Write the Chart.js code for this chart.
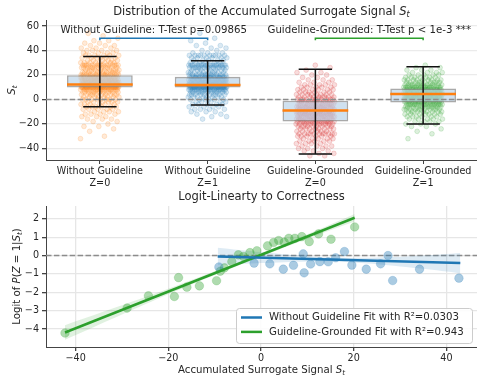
<!DOCTYPE html>
<html>
<head>
<meta charset="utf-8">
<script src="https://cdn.jsdelivr.net/npm/chart.js@4.4.0/dist/chart.umd.min.js"></script>
<style>
html, body { margin: 0; padding: 0; background: #fff; }
canvas { position: absolute; left: 0; }
#c1 { top: 0; }
#c2 { top: 190px; }
</style>
</head>
<body>
<canvas id="c1" width="477" height="190"></canvas>
<canvas id="c2" width="477" height="191"></canvas>
<script>
// ---- top panel: strip + box per group ----
var groupNames = [['Without Guideline', 'Z=0'], ['Without Guideline', 'Z=1'], ['Guideline-Grounded', 'Z=0'], ['Guideline-Grounded', 'Z=1']];
var groupColors = ['255,127,14', '31,119,180', '214,39,40', '44,160,44'];

var levels = [-46,-44,-42,-40,-38,-36,-34,-32,-30,-28,-26,-24,-22,-20,-18,-16,-14,-12,-10,-8,-6,-4,-2,0,2,4,6,8,10,12,14,16,18,20,22,24,26,28,30,32,34,36,38,40,42,44,46,48,50,52,54];
var countsNoZ0 = [0,0,0,0,0,0,0,1,1,0,1,1,2,1,2,3,3,4,4,5,6,6,6,8,8,10,12,18,40,42,26,22,22,16,12,10,12,16,8,6,6,6,4,4,3,3,2,2,1,1,1];
var countsNoZ1 = [0,0,0,0,0,0,0,0,0,0,0,0,0,0,0,1,2,2,3,4,4,5,5,6,8,10,14,20,40,40,30,28,24,14,10,8,14,20,6,5,6,10,3,2,2,2,1,1,1,0,1];
var countsGgZ0 = [2,2,3,3,4,4,5,5,6,11,6,8,9,12,15,15,16,18,19,18,15,14,12,11,9,8,6,6,5,5,3,3,2,2,2,1,1,1,0,0,0,0,0,0,0,0,0,0,0,0,0];
var countsGgZ1 = [0,0,0,0,0,0,0,1,0,1,1,1,2,3,4,5,6,7,9,11,14,18,22,26,28,30,27,24,19,14,10,9,7,5,4,3,2,1,0,0,0,0,0,0,0,0,0,0,0,0,0];

var boxQ1 = [9.7, 9.7, -18, -2.5];
var boxMed = [12.3, 11.8, -9, 4.5];
var boxQ3 = [19.8, 18.5, -1, 9];
var whiskLo = [-6, -4.5, -44.5, -20];
var whiskHi = [35, 31.7, 24.6, 26.8];
var topYTicks = [-40, -20, 0, 20, 40, 60];

var testLabels = ['Without Guideline: T-Test p=0.09865', 'Guideline-Grounded: T-Test p < 1e-3 ***'];
var testPairs = [[0, 1], [2, 3]];
var testColors = ['#1f77b4', '#2ca02c'];

// ---- bottom panel: binned logits vs signal ----
var noX = [-9.1, -1.5, 1.9, 4.8, 7.0, 9.1, 9.3, 10.7, 12.7, 14.5, 16.1, 18.0, 19.6, 22.7, 25.8, 27.4, 28.4, 34.2, 42.7];
var noY = [-0.62, -0.41, -0.45, -0.74, -0.53, 0.09, -0.94, -0.46, -0.33, -0.34, -0.12, 0.22, -0.52, -0.74, -0.45, 0.0, -1.36, -0.74, -1.23];
var ggX = [-42.3, -28.9, -24.3, -18.7, -17.8, -16.0, -13.3, -9.6, -8.8, -7.9, -6.3, -4.9, -3.8, -2.4, -0.9, 1.4, 2.7, 3.8, 5.0, 6.0, 7.3, 8.8, 10.4, 12.4, 15.1, 20.2];
var ggY = [-4.22, -2.86, -2.19, -2.23, -1.2, -1.72, -1.65, -1.37, -0.85, -0.67, -0.33, 0.04, -0.05, 0.16, 0.26, 0.53, 0.71, 0.82, 0.73, 0.94, 0.94, 1.03, 0.76, 1.18, 0.89, 1.56];

var noFitX = [-9.35, 43], noFitY = [-0.05, -0.41];
var ggFitX = [-42.3, 20.2], ggFitY = [-4.19, 2.06];
var noBandX = [-9.35, 0, 10, 16, 25, 35, 43];
var noBandHi = [0.43, 0.19, -0.04, -0.12, -0.11, 0.0, 0.14];
var noBandLo = [-0.53, -0.41, -0.32, -0.32, -0.47, -0.72, -0.96];
var ggBandX = [-42.3, -30, -20, -10, 0, 10, 20.2];
var ggBandHi = [-3.79, -2.71, -1.81, -0.86, 0.13, 1.16, 2.27];
var ggBandLo = [-4.59, -3.21, -2.11, -1.06, -0.05, 0.92, 1.85];
var botXTicks = [-40, -20, 0, 20, 40];
var botYTicks = [-4, -3, -2, -1, 0, 1, 2];
var fitLabels = ['Without Guideline Fit with R\u00b2=0.0303', 'Guideline-Grounded Fit with R\u00b2=0.943'];

var FONT = 'DejaVu Sans';
var TXT = '#262626';

function minus(v) { return String(v).replace('-', '\u2212'); }

function stripPoints(g, counts) {
  var pts = [], m = 0;
  for (var i = 0; i < levels.length; i++) {
    for (var k = 0; k < counts[i]; k++) {
      var f = (m * 0.6180339887 + g * 0.37) % 1;
      pts.push({ x: g + (f - 0.5) * 0.36, y: levels[i] });
      m++;
    }
  }
  return pts;
}

function zip(xs, ys) { return xs.map(function (x, i) { return { x: x, y: ys[i] }; }); }

// text with italic / subscript pieces, like matplotlib mathtext
function richText(ctx, parts, x, y, size) {
  function font(p) {
    var s = p[1] === 'sub' ? size * 0.7 : size;
    return (p[1] === 'n' ? '' : 'italic ') + s + 'px "' + FONT + '"';
  }
  var w = 0;
  parts.forEach(function (p) { ctx.font = font(p); w += ctx.measureText(p[0]).width; });
  var cx = x - w / 2;
  ctx.textAlign = 'left';
  ctx.textBaseline = 'middle';
  parts.forEach(function (p) {
    ctx.font = font(p);
    ctx.fillText(p[0], cx, y + (p[1] === 'sub' ? size * 0.28 : 0));
    cx += ctx.measureText(p[0]).width;
  });
}

function zeroLine(chart) {
  var ctx = chart.ctx, a = chart.chartArea, py = chart.scales.y.getPixelForValue(0);
  ctx.save();
  ctx.strokeStyle = '#8c8c8c';
  ctx.lineWidth = 1.5;
  ctx.setLineDash([5.5, 2.4]);
  ctx.beginPath(); ctx.moveTo(a.left, py); ctx.lineTo(a.right, py); ctx.stroke();
  ctx.restore();
}

var topPlugin = {
  id: 'topDecor',
  afterDatasetsDraw: function (chart) {
    var ctx = chart.ctx, xs = chart.scales.x, ys = chart.scales.y;
    zeroLine(chart);
    ctx.save();
    var half = xs.getPixelForValue(0.155) - xs.getPixelForValue(0);
    var boxHalf = xs.getPixelForValue(0.305) - xs.getPixelForValue(0);
    for (var g = 0; g < 4; g++) {
      var px = xs.getPixelForValue(g);
      ctx.strokeStyle = '#111';
      ctx.lineWidth = 1.5;
      ctx.beginPath();
      ctx.moveTo(px, ys.getPixelForValue(whiskLo[g])); ctx.lineTo(px, ys.getPixelForValue(whiskHi[g]));
      ctx.moveTo(px - half, ys.getPixelForValue(whiskLo[g])); ctx.lineTo(px + half, ys.getPixelForValue(whiskLo[g]));
      ctx.moveTo(px - half, ys.getPixelForValue(whiskHi[g])); ctx.lineTo(px + half, ys.getPixelForValue(whiskHi[g]));
      ctx.stroke();
      ctx.strokeStyle = '#ff7f0e';
      ctx.lineWidth = 2.5;
      ctx.beginPath();
      ctx.moveTo(px - boxHalf, ys.getPixelForValue(boxMed[g])); ctx.lineTo(px + boxHalf, ys.getPixelForValue(boxMed[g]));
      ctx.stroke();
    }
    // t-test brackets
    for (var t = 0; t < testPairs.length; t++) {
      var x0 = xs.getPixelForValue(testPairs[t][0]), x1 = xs.getPixelForValue(testPairs[t][1]);
      var by = ys.getPixelForValue(50), bt = ys.getPixelForValue(48.3);
      ctx.strokeStyle = testColors[t];
      ctx.lineWidth = 1.5;
      ctx.beginPath();
      ctx.moveTo(x0, bt); ctx.lineTo(x0, by); ctx.lineTo(x1, by); ctx.lineTo(x1, bt);
      ctx.stroke();
      ctx.fillStyle = TXT;
      ctx.font = '10.2px "' + FONT + '"';
      ctx.textAlign = 'center';
      ctx.textBaseline = 'middle';
      ctx.fillText(testLabels[t], (x0 + x1) / 2, ys.getPixelForValue(56.8));
    }
    ctx.restore();
  },
  afterDraw: function (chart) {
    var ctx = chart.ctx, a = chart.chartArea;
    ctx.save();
    ctx.fillStyle = TXT;
    richText(ctx, [['Distribution of the Accumulated Surrogate Signal ', 'n'], ['S', 'i'], ['t', 'sub']], (a.left + a.right) / 2, 12, 11.5);
    ctx.translate(12, (a.top + a.bottom) / 2);
    ctx.rotate(-Math.PI / 2);
    richText(ctx, [['S', 'i'], ['t', 'sub']], 0, 0, 10.2);
    ctx.restore();
  }
};

var botPlugin = {
  id: 'botDecor',
  beforeDatasetsDraw: function (chart) { zeroLine(chart); },
  afterDraw: function (chart) {
    var ctx = chart.ctx, a = chart.chartArea;
    ctx.save();
    ctx.fillStyle = TXT;
    richText(ctx, [['Logit-Linearty to Correctness', 'n']], (a.left + a.right) / 2, 7.5, 11.5);
    richText(ctx, [['Accumulated Surrogate Signal ', 'n'], ['S', 'i'], ['t', 'sub']], (a.left + a.right) / 2, 180, 10.2);
    ctx.save();
    ctx.translate(17, (a.top + a.bottom) / 2);
    ctx.rotate(-Math.PI / 2);
    richText(ctx, [['Logit of ', 'n'], ['P', 'i'], ['(', 'n'], ['Z', 'i'], [' = 1|', 'n'], ['S', 'i'], ['t', 'sub'], [')', 'n']], 0, 0, 10.2);
    ctx.restore();
    // legend, lower right
    var lx = a.right - 241, ly = a.bottom - 39, lw = 236, lh = 35;
    ctx.fillStyle = 'rgba(255,255,255,0.85)';
    ctx.strokeStyle = '#cccccc';
    ctx.lineWidth = 1;
    ctx.beginPath();
    ctx.roundRect(lx + 0.5, ly + 0.5, lw, lh, 3);
    ctx.fill(); ctx.stroke();
    var cols = ['#1f77b4', '#2ca02c'];
    for (var i = 0; i < 2; i++) {
      var ry = ly + 9.5 + i * 14.4;
      ctx.strokeStyle = cols[i];
      ctx.lineWidth = 2.5;
      ctx.beginPath(); ctx.moveTo(lx + 5, ry); ctx.lineTo(lx + 26, ry); ctx.stroke();
      ctx.fillStyle = TXT;
      ctx.font = '10.2px "' + FONT + '"';
      ctx.textAlign = 'left';
      ctx.textBaseline = 'middle';
      ctx.fillText(fitLabels[i], lx + 33, ry);
    }
    ctx.restore();
  }
};

var tickFont = { family: FONT, size: 9.6 };

var topDatasets = [];
var allCounts = [countsNoZ0, countsNoZ1, countsGgZ0, countsGgZ1];
for (var g = 0; g < 4; g++) {
  topDatasets.push({
    type: 'scatter',
    data: stripPoints(g, allCounts[g]),
    backgroundColor: 'rgba(' + groupColors[g] + ',0.16)',
    borderColor: 'rgba(' + groupColors[g] + ',0.22)',
    borderWidth: 0.8,
    pointRadius: 2.4,
    order: 2
  });
}
// box drawn over the strips, like the reference
topDatasets.push({
  type: 'bar',
  data: boxQ1.map(function (q, i) { return { x: i, y: [q, boxQ3[i]] }; }),
  backgroundColor: 'rgba(188,213,234,0.72)',
  borderColor: 'rgba(140,140,140,0.75)',
  borderWidth: 1.6,
  borderSkipped: false,
  barPercentage: 0.61,
  categoryPercentage: 1,
  order: 1
});

new Chart(document.getElementById('c1'), {
  type: 'scatter',
  data: { datasets: topDatasets },
  options: {
    responsive: false, animation: false, devicePixelRatio: 1,
    layout: { autoPadding: false, padding: { top: 20, left: 0, right: 0, bottom: 0 } },
    plugins: { legend: { display: false }, tooltip: { enabled: false } },
    scales: {
      x: {
        type: 'linear', min: -0.5, max: 3.5, offset: false,
        afterBuildTicks: function (s) { s.ticks = [0, 1, 2, 3].map(function (v) { return { value: v }; }); },
        afterFit: function (s) { s.height = 30; },
        grid: { drawOnChartArea: false, offset: false, tickColor: '#444', tickLength: 4 },
        border: { color: '#444', width: 1 },
        ticks: { autoSkip: false, maxRotation: 0, padding: 1, color: TXT, font: { family: FONT, size: 9.6, lineHeight: 1.3 },
          callback: function (v) { return groupNames[v]; } }
      },
      y: {
        min: -49.4, max: 64.9, beginAtZero: false,
        afterBuildTicks: function (s) { s.ticks = topYTicks.map(function (v) { return { value: v }; }); },
        afterFit: function (s) { s.width = 46; },
        grid: { color: '#ebebeb', lineWidth: 1.3, tickColor: '#444', tickLength: 4 },
        border: { color: '#444', width: 1 },
        ticks: { padding: 3, color: TXT, font: tickFont, callback: minus }
      }
    }
  },
  plugins: [topPlugin]
});

function bandPair(xs, hi, lo, rgb) {
  return [{
    type: 'line', data: zip(xs, hi), borderWidth: 0, pointRadius: 0, fill: '+1',
    backgroundColor: 'rgba(' + rgb + ',0.15)', tension: 0.3, order: 9
  }, {
    type: 'line', data: zip(xs, lo), borderWidth: 0, pointRadius: 0, fill: false,
    backgroundColor: 'rgba(' + rgb + ',0.15)', tension: 0.3, order: 9
  }];
}

var botDatasets = [].concat(
  bandPair(noBandX, noBandHi, noBandLo, '31,119,180'),
  bandPair(ggBandX, ggBandHi, ggBandLo, '44,160,44'),
  [
    { type: 'scatter', data: zip(noX, noY), backgroundColor: 'rgba(31,119,180,0.38)', borderColor: 'rgba(31,119,180,0.38)', borderWidth: 0.5, pointRadius: 4.3, order: 5 },
    { type: 'scatter', data: zip(ggX, ggY), backgroundColor: 'rgba(44,160,44,0.38)', borderColor: 'rgba(44,160,44,0.38)', borderWidth: 0.5, pointRadius: 4.3, order: 5 },
    { type: 'line', data: zip(noFitX, noFitY), borderColor: '#1f77b4', borderWidth: 2.5, pointRadius: 0, fill: false, order: 1 },
    { type: 'line', data: zip(ggFitX, ggFitY), borderColor: '#2ca02c', borderWidth: 2.5, pointRadius: 0, fill: false, order: 1 }
  ]
);

new Chart(document.getElementById('c2'), {
  type: 'scatter',
  data: { datasets: botDatasets },
  options: {
    responsive: false, animation: false, devicePixelRatio: 1,
    layout: { autoPadding: false, padding: { top: 16, left: 0, right: 0, bottom: 0 } },
    plugins: { legend: { display: false }, tooltip: { enabled: false } },
    scales: {
      x: {
        type: 'linear', min: -46.4, max: 46.6, offset: false,
        afterBuildTicks: function (s) { s.ticks = botXTicks.map(function (v) { return { value: v }; }); },
        afterFit: function (s) { s.height = 34; },
        grid: { color: '#e6e6e6', lineWidth: 1.3, tickColor: '#444', tickLength: 4 },
        border: { color: '#444', width: 1 },
        ticks: { padding: 2, color: TXT, font: tickFont, callback: minus }
      },
      y: {
        min: -4.98, max: 2.7,
        afterBuildTicks: function (s) { s.ticks = botYTicks.map(function (v) { return { value: v }; }); },
        afterFit: function (s) { s.width = 46; },
        grid: { color: '#e6e6e6', lineWidth: 1.3, tickColor: '#444', tickLength: 4 },
        border: { color: '#444', width: 1 },
        ticks: { padding: 3, color: TXT, font: tickFont, callback: minus }
      }
    }
  },
  plugins: [botPlugin]
});
</script>
</body>
</html>
